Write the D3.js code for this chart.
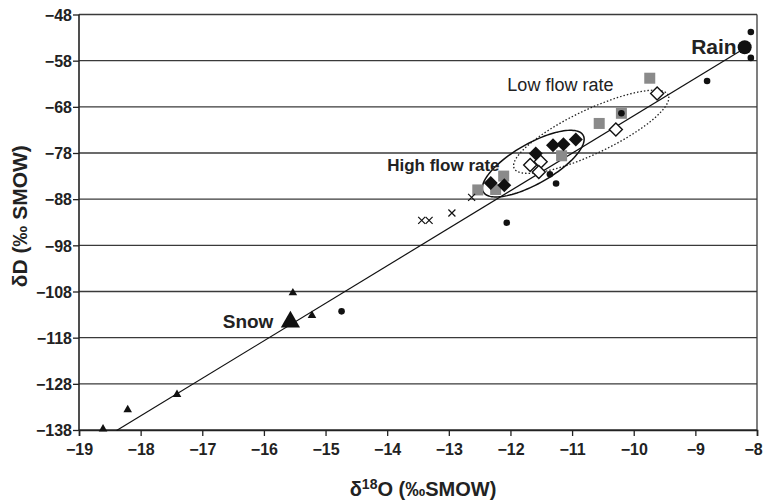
<!DOCTYPE html>
<html>
<head>
<meta charset="utf-8">
<script src="https://cdn.jsdelivr.net/npm/d3@7"></script>
<style>
  body { margin: 0; background: #fff; }
  text { font-family: "Liberation Sans", Arial, sans-serif; }
</style>
</head>
<body>
<svg id="chart" width="764" height="502"></svg>
<script>
// tick values
var xTicks = [-19, -18, -17, -16, -15, -14, -13, -12, -11, -10, -9, -8];
var yTicks = [-48, -58, -68, -78, -88, -98, -108, -118, -128, -138];

// black dots (rain samples)
var dotX = [-8.10, -8.10, -8.81, -10.20, -11.36, -11.26, -12.06, -14.74];
var dotY = [-51.8, -57.4, -62.4, -69.4, -82.6, -84.6, -93.1, -112.3];
// triangles (snow samples)
var triX = [-15.53, -15.22, -17.41, -18.21, -18.61];
var triY = [-108.3, -113.2, -130.3, -133.6, -137.8];
// crosses
var crossX = [-13.44, -13.32, -12.95, -12.63];
var crossY = [-92.6, -92.6, -91.0, -87.6];
// grey squares
var sqX = [-9.74, -10.20, -10.56, -11.17, -12.11, -12.24, -12.53];
var sqY = [-61.8, -69.4, -71.6, -78.6, -83.0, -85.9, -86.0];
// black diamonds (high flow rate)
var hiX = [-12.32, -12.10, -11.59, -11.31, -11.14, -10.94];
var hiY = [-84.5, -85.0, -78.1, -76.3, -76.1, -75.1];
// open diamonds (low flow rate)
var loX = [-11.68, -11.51, -11.54, -10.29, -9.62];
var loY = [-80.6, -79.9, -82.1, -72.9, -65.1];
// mean rain / snow
var rain = [-8.20, -55.1];
var snow = [-15.57, -114.6];
// regression line
var lineX = [-18.39, -8.20];
var lineY = [-138.1, -55.3];

var margin = {top: 14.5, right: 7, bottom: 72, left: 79},
    width = 764 - margin.left - margin.right,
    height = 502 - margin.top - margin.bottom;

var svg = d3.select("#chart")
  .append("g")
    .attr("transform", "translate(" + margin.left + "," + margin.top + ")");

var x = d3.scaleLinear().domain([-19, -8]).range([0, width]);
var y = d3.scaleLinear().domain([-138, -48]).range([height, 0]);

// horizontal grid
svg.selectAll(".grid")
  .data(yTicks)
  .enter()
  .append("line")
    .attr("x1", 0).attr("x2", width)
    .attr("y1", function(d) { return y(d); })
    .attr("y2", function(d) { return y(d); })
    .attr("stroke", "#3a3a3a")
    .attr("stroke-width", 1.3);

// right border
svg.append("line")
  .attr("x1", width).attr("x2", width)
  .attr("y1", 0).attr("y2", height)
  .attr("stroke", "#3a3a3a").attr("stroke-width", 1.3);

var yAxis = svg.append("g")
  .call(d3.axisLeft(y).tickValues(yTicks).tickSize(6).tickFormat(d3.format("d")));
var xAxis = svg.append("g")
  .attr("transform", "translate(0," + height + ")")
  .call(d3.axisBottom(x).tickValues(xTicks).tickSize(6).tickFormat(d3.format("d")));

[xAxis, yAxis].forEach(function(a) {
  a.select(".domain").attr("stroke", "#222").attr("stroke-width", 1.6);
  a.selectAll(".tick line").attr("stroke", "#222").attr("stroke-width", 1.3);
  a.selectAll(".tick text")
    .style("font-family", "Liberation Sans, Arial, sans-serif")
    .style("font-size", "16px")
    .style("font-weight", "bold")
    .attr("fill", "#222");
});
yAxis.select(".domain").attr("d", "M0," + height + "V0");
xAxis.selectAll(".tick text").attr("dy", "1em").attr("y", 9);
// keep the last label inside the picture
xAxis.selectAll(".tick text").filter(function(d) { return d === -8; }).attr("dx", -4);
yAxis.selectAll(".tick text").attr("x", -7).attr("dy", "0.36em");

// ellipses: centre and two conjugate semi-axes in data units
function ellipsePath(cx, cy, ax, ay, bx, by) {
  var pts = d3.range(0, 2 * Math.PI + 0.01, Math.PI / 60).map(function(t) {
    return [x(cx + ax * Math.cos(t) + bx * Math.sin(t)), y(cy + ay * Math.cos(t) + by * Math.sin(t))];
  });
  return d3.line()(pts);
}
svg.append("path")
  .attr("d", ellipsePath(-10.69, -73.4, 1.25, 7.92, -0.153, 4.3))
  .attr("fill", "none").attr("stroke", "#222").attr("stroke-width", 1.3)
  .attr("stroke-dasharray", "1.5,2");
svg.append("path")
  .attr("d", ellipsePath(-11.63, -80.3, 0.81, 6.14, -0.16, 3.8))
  .attr("fill", "none").attr("stroke", "#111").attr("stroke-width", 1.5);

// regression line
svg.append("line")
  .attr("x1", x(lineX[0])).attr("y1", y(lineY[0]))
  .attr("x2", x(lineX[1])).attr("y2", y(lineY[1]))
  .attr("stroke", "#111").attr("stroke-width", 1.2);

function pts(xs, ys) { return xs.map(function(v, i) { return [v, ys[i]]; }); }

// grey squares
svg.selectAll(".sq")
  .data(pts(sqX, sqY))
  .enter()
  .append("rect")
    .attr("x", function(d) { return x(d[0]) - 5.5; })
    .attr("y", function(d) { return y(d[1]) - 5.5; })
    .attr("width", 11).attr("height", 11)
    .attr("fill", "#8a8a8a");

// black dots
svg.selectAll(".dot")
  .data(pts(dotX, dotY))
  .enter()
  .append("circle")
    .attr("cx", function(d) { return x(d[0]); })
    .attr("cy", function(d) { return y(d[1]); })
    .attr("r", 3.3)
    .attr("fill", "#111");

// triangles
var tri = d3.symbol().type(d3.symbolTriangle);
svg.selectAll(".tri")
  .data(pts(triX, triY))
  .enter()
  .append("path")
    .attr("d", tri.size(32))
    .attr("transform", function(d) { return "translate(" + x(d[0]) + "," + y(d[1]) + ")"; })
    .attr("fill", "#111");

// crosses
svg.selectAll(".cross")
  .data(pts(crossX, crossY))
  .enter()
  .append("path")
    .attr("d", "M-3.5,-3.5L3.5,3.5M-3.5,3.5L3.5,-3.5")
    .attr("transform", function(d) { return "translate(" + x(d[0]) + "," + y(d[1]) + ")"; })
    .attr("stroke", "#111").attr("stroke-width", 1.2);

// diamonds
var diamond = "M0,-7L7,0L0,7L-7,0Z";
svg.selectAll(".hi")
  .data(pts(hiX, hiY))
  .enter()
  .append("path")
    .attr("d", diamond)
    .attr("transform", function(d) { return "translate(" + x(d[0]) + "," + y(d[1]) + ")"; })
    .attr("fill", "#111");
svg.selectAll(".lo")
  .data(pts(loX, loY))
  .enter()
  .append("path")
    .attr("d", "M0,-6.5L6.5,0L0,6.5L-6.5,0Z")
    .attr("transform", function(d) { return "translate(" + x(d[0]) + "," + y(d[1]) + ")"; })
    .attr("fill", "#fff").attr("stroke", "#111").attr("stroke-width", 1.4);

// rain and snow means
svg.append("circle")
  .attr("cx", x(rain[0])).attr("cy", y(rain[1]))
  .attr("r", 7).attr("fill", "#111");
svg.append("path")
  .attr("d", tri.size(160))
  .attr("transform", "translate(" + x(snow[0]) + "," + y(snow[1]) + ")")
  .attr("fill", "#111");

// annotations
function label(txt, px, py, anchor, weight, size) {
  return svg.append("text")
    .attr("x", px).attr("y", py)
    .attr("text-anchor", anchor)
    .style("font-size", size + "px")
    .style("font-weight", weight)
    .attr("fill", "#222")
    .text(txt);
}
label("Rain", x(rain[0]) - 8, y(rain[1]) + 7, "end", "bold", 21);
label("Snow", x(snow[0]) - 17, y(snow[1]) + 6, "end", "bold", 19);
label("High flow rate", x(-14.0), y(-81.8), "start", "bold", 17);
label("Low flow rate", x(-12.05), y(-64.6), "start", "normal", 18);

// axis titles
var xt = svg.append("text")
  .attr("x", 344).attr("y", height + 66)
  .attr("text-anchor", "middle")
  .style("font-size", "20px").style("font-weight", "bold")
  .attr("fill", "#222");
xt.append("tspan").text("δ");
xt.append("tspan").attr("dy", -7).style("font-size", "14px").text("18");
xt.append("tspan").attr("dy", 7).text("O (‰SMOW)");

svg.append("text")
  .attr("transform", "translate(" + (-52) + "," + (height / 2 - 6) + ")rotate(-90)")
  .attr("text-anchor", "middle")
  .style("font-size", "21px").style("font-weight", "bold")
  .attr("fill", "#222")
  .text("δD (‰ SMOW)");
</script>
</body>
</html>
